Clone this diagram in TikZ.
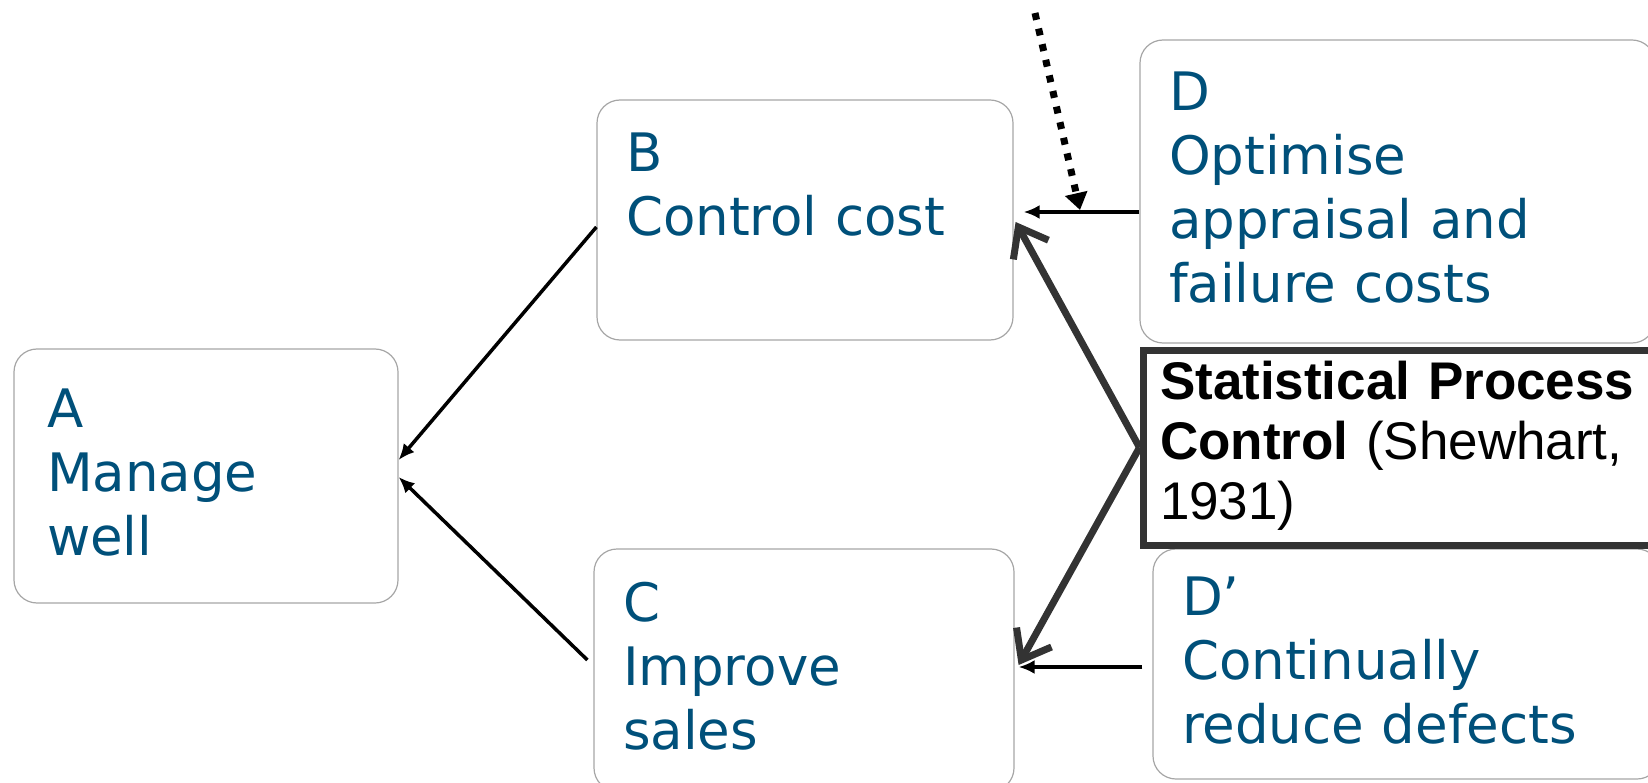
\documentclass[tikz,border=0pt]{standalone}
\usepackage{fontspec}
\setmainfont{DejaVu Sans}
\newfontfamily\spcfont{Liberation Sans}
\usetikzlibrary{arrows.meta}
\definecolor{qblue}{RGB}{0,80,122}
\definecolor{qframe}{RGB}{166,166,166}
\definecolor{qdark}{RGB}{51,51,51}

\begin{document}
\begin{tikzpicture}[x=1pt, y=-1pt,
	box/.style={draw=qframe, line width=1.2pt, rounded corners=23pt, align=left, inner xsep=29pt, text=qblue,
		font=\fontsize{53}{64}\selectfont, execute at begin node=\rule{0pt}{50pt}, execute at end node=\strut},
	link/.style={line width=3.5pt, -{Latex[length=16pt,width=14pt]}},
	cuelink/.style={line width=7pt, dash pattern=on 7pt off 9pt, -{Triangle[length=17pt,width=22pt]}},
	spclink/.style={qdark, line width=7pt, -{Straight Barb[length=26pt,width=40pt]}}]
\useasboundingbox (0,0) rectangle (1648,783);
\node[box, text width=318pt, inner xsep=33pt, minimum height=254pt] (A) at (206,476) {A\\Manage\\well};
\node[box, text width=358pt, minimum height=240pt] (B) at (805,220) {B\\Control cost\\};
\node[box, text width=362pt, minimum height=242pt] (C) at (804,670) {C\\Improve\\sales};
\node[box, text width=457pt, minimum height=303pt] (D) at (1397.5,191.5) {D\\Optimise\\appraisal and\\failure costs};
\node[box, text width=449pt, minimum height=230pt] (Dp) at (1406.5,664) {D’\\Continually\\reduce defects};
\node[draw=qdark, fill=white, line width=7pt, text width=483pt, inner xsep=17pt, minimum height=195pt, align=left,
	font=\spcfont\fontsize{53}{60}\selectfont, execute at begin node=\strut, execute at end node=\strut]
	(SPC) at (1401.5,447.5) {\textbf{Statistical Process}\\\textbf{Control} (Shewhart,\\1931)};
\coordinate (cue) at (1035,13);
\coordinate (meet) at (1080,210);
\draw[link] ([yshift=-7pt]B.west) -- ([yshift=16pt]A.east);
\draw[link] ([shift={(-6pt,10pt)}]C.west) -- ([yshift=-1pt]A.east);
\draw[link] ([yshift=-20.5pt]D.west) -- ([shift={(10pt,8pt)}]B.east);
\draw[link] ([shift={(-10pt,-3pt)}]Dp.west) -- ([shift={(4pt,3pt)}]C.east);
\draw[cuelink] (cue) -- (meet);
\draw[spclink] (SPC.west) -- ([shift={(2pt,-2pt)}]B.east);
\draw[spclink] (SPC.west) -- ([shift={(4pt,5pt)}]C.east);
\end{tikzpicture}
\end{document}
